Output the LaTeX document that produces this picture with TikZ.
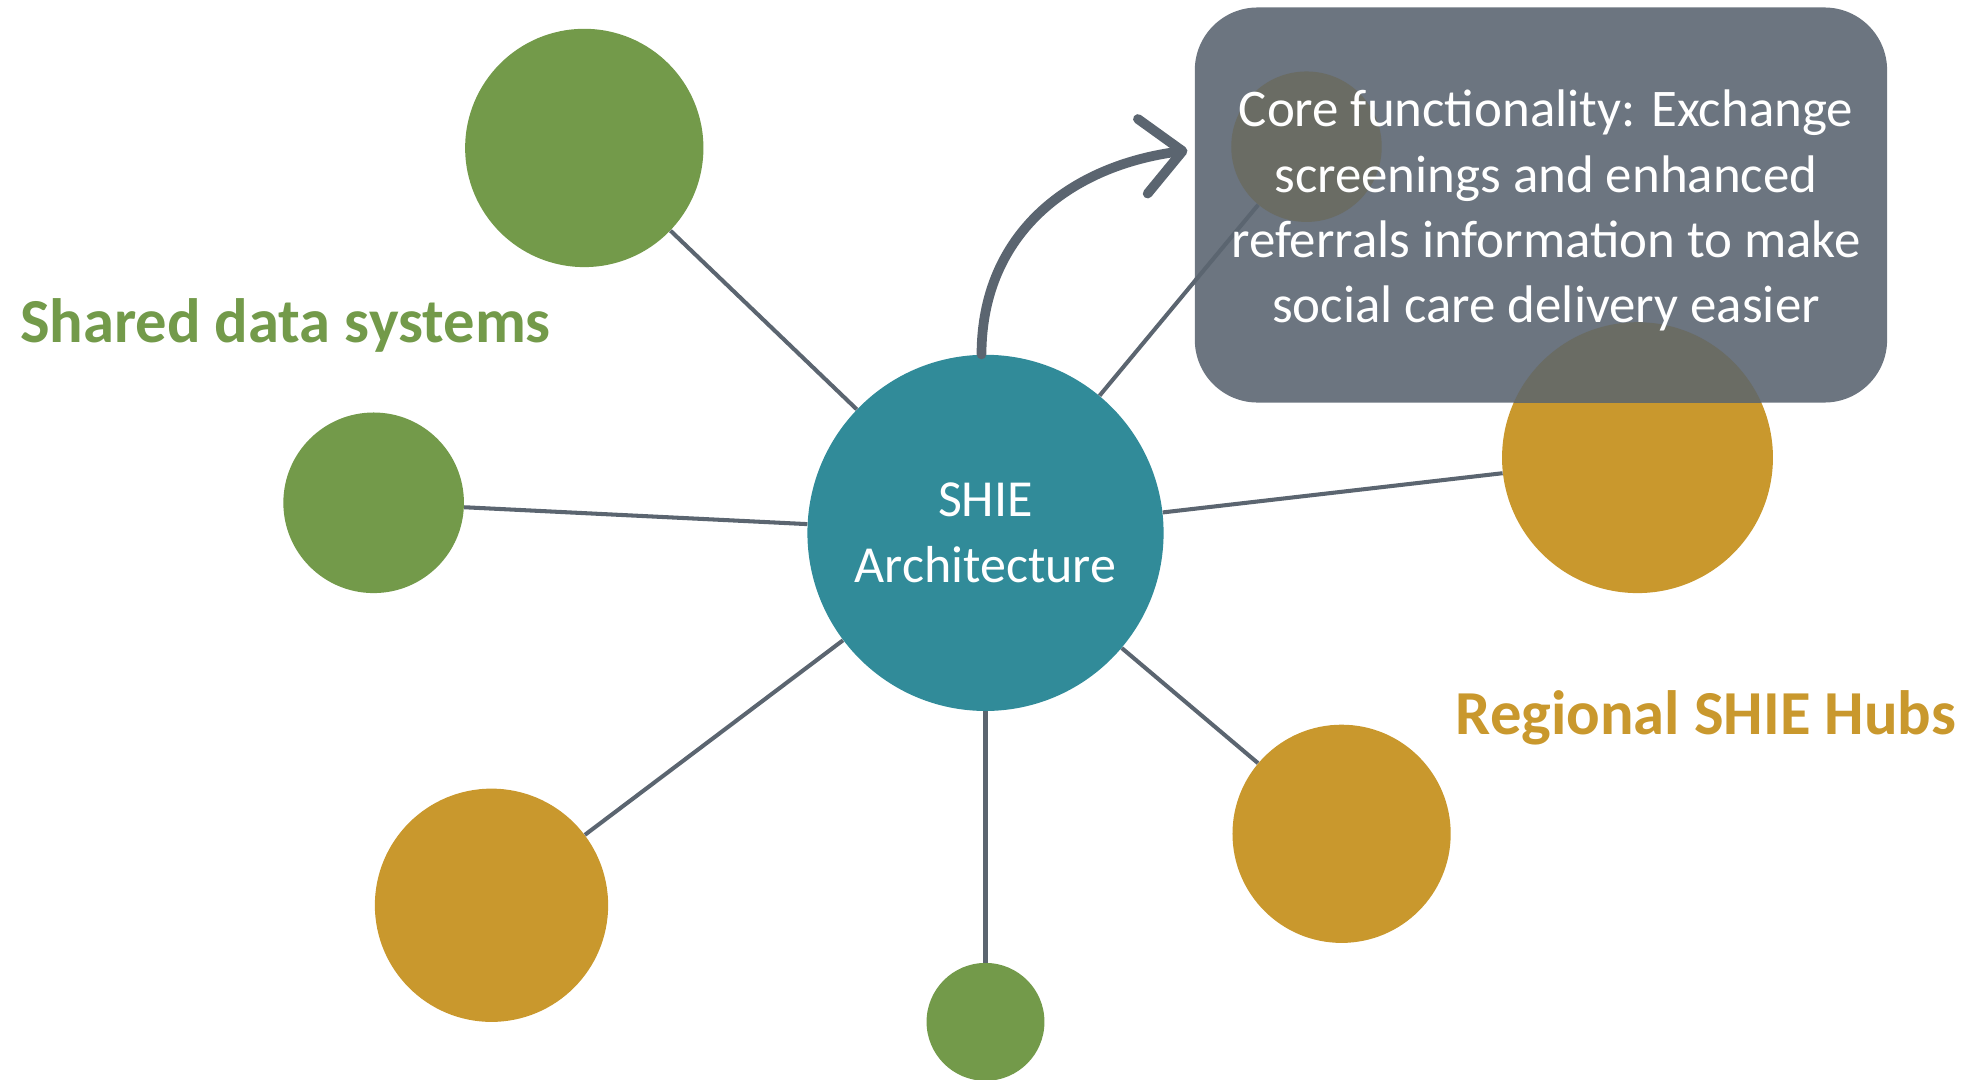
\documentclass[tikz,border=0pt]{standalone}
\usepackage{fontspec}
\setmainfont{Carlito}
\usetikzlibrary{arrows.meta}
\definecolor{shgreen}{RGB}{115,154,74}
\definecolor{shorange}{RGB}{201,152,45}
\definecolor{shteal}{RGB}{49,139,153}
\definecolor{shbox}{RGB}{108,117,128}
\definecolor{shline}{RGB}{91,101,112}
\definecolor{shshade}{RGB}{106,108,100}
\begin{document}
\begin{tikzpicture}[x=0.025cm,y=-0.025cm,>={Straight Barb[round,length=8mm,width=15mm]},
	dot/.style={circle,inner sep=0pt,draw=none},
	greendot/.style={dot,fill=shgreen},
	orangedot/.style={dot,fill=shorange},
	spoke/.style={draw=shline,line width=2.3pt},
	bodytext/.style={text=white,align=center,font=\fontsize{29.5}{37}\selectfont},
	grouptext/.style={anchor=base west,font=\bfseries\fontsize{35.5}{40}\selectfont}]
	\useasboundingbox (0,0) rectangle (1568,861);
	\node[dot,fill=shteal,minimum size=7.1cm,bodytext] (hub) at (786,425) {SHIE\\Architecture};
	\node[greendot,minimum size=4.75cm] (g1) at (466,118) {};
	\node[greendot,minimum size=3.6cm] (g2) at (298,401) {};
	\node[greendot,minimum size=2.35cm] (g3) at (786,815) {};
	\node[greendot,minimum size=3cm] (g4) at (1042,117) {};
	\node[orangedot,minimum size=4.65cm] (o1) at (392,722) {};
	\node[orangedot,minimum size=4.35cm] (o2) at (1070,665) {};
	\node[orangedot,minimum size=5.4cm] (o3) at (1306,365) {};
	\foreach \n in {g1,g2,g3,g4,o1,o2,o3}
		\draw[spoke] (hub)--(\n);
	\node[draw=none,fill=shbox,rounded corners=1.25cm,minimum width=13.8cm,minimum height=7.875cm] (corebox) at (1229,163.5) {};
	\begin{scope}
		\clip[rounded corners=1.25cm] (corebox.south west) rectangle (corebox.north east);
		\fill[shshade] (g4.center) circle[radius=1.5cm];
		\fill[shshade] (o3.center) circle[radius=2.7cm];
		\draw[spoke] (hub)--(g4);
	\end{scope}
	\node[bodytext,font=\fontsize{30}{37}\selectfont] (core) at (1233,168) {Core functionality: Exchange\\screenings and enhanced\\referrals information to make\\social care delivery easier};
	\coordinate (tip) at (947,120);
	\draw[->,draw=shline,line width=5.5pt,line cap=round] ([xshift=-0.08cm]hub.north) .. controls (783,185) and (855,132) .. (tip);
	\node[grouptext,text=shgreen] (shared) at (11,273) {Shared data systems};
	\node[grouptext,text=shorange] (regional) at (1156,586) {Regional SHIE Hubs};
\end{tikzpicture}
\end{document}
